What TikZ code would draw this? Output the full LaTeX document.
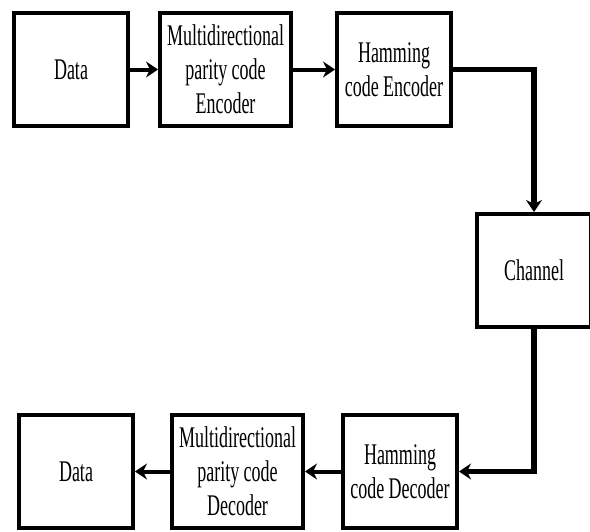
\documentclass[tikz,border=0pt]{standalone}
\usepackage{fontspec}
\setmainfont{Liberation Serif}[FakeStretch=0.60]
\usepackage{tikz}
\usetikzlibrary{positioning}
\usetikzlibrary{shapes,arrows.meta}
\tikzstyle{block} = [rectangle, draw, line width=3pt, fill=white,
align=center, inner sep=1pt, minimum width=85.5pt, minimum height=84.75pt,
font=\fontsize{22.5pt}{25.5pt}\selectfont]
\tikzstyle{wide} = [minimum width=98.25pt]
\tikzstyle{line} = [draw, -{Stealth[length=9pt,width=12pt,inset=3pt]}, line width=3pt]
\tikzstyle{heavy} = [line width=4pt]

\begin{document}
\begin{tikzpicture}[x=0.75pt, y=-0.75pt]
\useasboundingbox (0,0) rectangle (590,532);
    % nodes
\node [block] (din) at (71,69.5) {Data};
\node [block, wide, right=21pt of din] (mpenc) {Multidirectional\\parity code\\Encoder};
\node [block, right=31.5pt of mpenc] (hamenc) {Hamming\\code Encoder};
\node [block] (chan) at (534,270.5) {Channel};
\node [block] (hamdec) at (400,471.5) {Hamming\\code Decoder};
\node [block, wide, left=27pt of hamdec] (mpdec) {Multidirectional\\parity code\\Decoder};
\node [block, left=26.25pt of mpdec] (dout) {Data};

%edges
\path [line] (din) -- (mpenc);
\path [line] (mpenc) -- (hamenc);
\path [line, heavy] (hamenc) -| (chan);
\path [line, heavy] (chan) |- (hamdec);
\path [line] (hamdec) -- (mpdec);
\path [line] (mpdec) -- (dout);
\end{tikzpicture}
\end{document}
